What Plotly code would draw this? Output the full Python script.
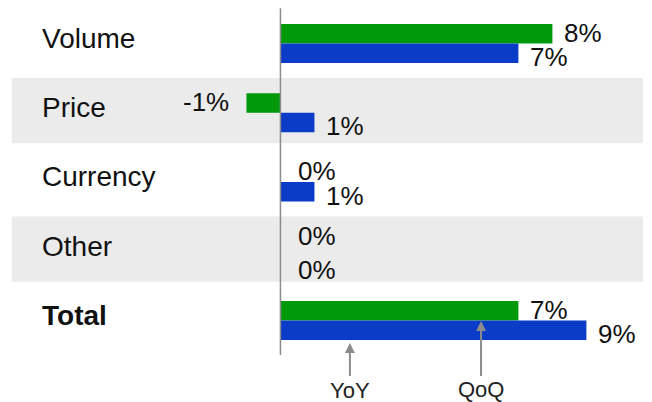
import plotly.graph_objects as go

# Growth drivers, percentage points
categories = ["Volume", "Price", "Currency", "Other", "Total"]
yoy = [8, -1, 0, 0, 7]
qoq = [7, 1, 1, 0, 9]
series_names = ["YoY", "QoQ"]

GREEN = "#00990A"
BLUE = "#0A3CC8"
BAND = "#EBEBEB"
GRID = "#8C8C8C"
FONT = "Liberation Sans, Arial, sans-serif"

rows = list(range(len(categories)))
bar_w = 0.28

fig = go.Figure()
fig.add_trace(go.Bar(
    x=yoy, y=rows, orientation="h", name=series_names[0],
    marker=dict(color=GREEN, line=dict(width=0)),
    width=bar_w, offset=-bar_w, base=0, hoverinfo="x+name",
))
fig.add_trace(go.Bar(
    x=qoq, y=rows, orientation="h", name=series_names[1],
    marker=dict(color=BLUE, line=dict(width=0)),
    width=bar_w, offset=0, base=0, hoverinfo="x+name",
))

shapes = []
# alternating shaded rows
for i in rows:
    if i % 2 == 1:
        shapes.append(dict(
            type="rect", xref="paper", yref="y",
            x0=0.018, x1=0.986, y0=i - 0.5, y1=i + 0.44,
            fillcolor=BAND, line=dict(width=0), layer="below",
        ))
# zero reference line
shapes.append(dict(
    type="line", xref="x", yref="y", x0=0, x1=0, y0=-0.51, y1=4.5,
    line=dict(color=GRID, width=1.5), layer="above",
))

annotations = []
# row labels
for i, name in enumerate(categories):
    annotations.append(dict(
        xref="paper", yref="y", x=40 / 652, y=i, xanchor="left", yanchor="middle",
        text=f"<b>{name}</b>" if name == "Total" else name,
        showarrow=False, yshift=5,
        font=dict(family=FONT, size=28, color="#111111"),
    ))


def value_label(v, yc, yshift):
    if v > 0:
        anchor, shift = "left", 10
    elif v < 0:
        anchor, shift = "right", -15
    else:
        anchor, shift = "left", 16
    return dict(
        xref="x", yref="y", x=v, y=yc, xanchor=anchor, yanchor="middle",
        text=f"{v}%", showarrow=False, xshift=shift, yshift=yshift,
        font=dict(family=FONT, size=26, color="#111111"),
    )


for i in rows:
    # spread the pair apart when both labels sit at the zero line
    spread = 5 if yoy[i] == 0 and qoq[i] == 0 else 0
    annotations.append(value_label(yoy[i], i - bar_w / 2, 1 + spread))
    annotations.append(value_label(qoq[i], i + bar_w / 2, -4 - spread))

# callouts pointing at the two series in the Total row
total = len(categories) - 1
callouts = [
    (series_names[0], qoq[total] * 0.227, total + 0.325, 47),
    (series_names[1], yoy[total] * 0.843, total + 0.007, 69),
]
for label, xt, yt, drop in callouts:
    annotations.append(dict(
        xref="x", yref="y", x=xt, y=yt, ax=0, ay=drop,
        text=label, showarrow=True, arrowhead=2, arrowsize=1,
        arrowwidth=2, arrowcolor=GRID,
        font=dict(family=FONT, size=22, color="#222222"),
    ))

fig.update_layout(
    width=652, height=402,
    margin=dict(l=0, r=0, t=0, b=0),
    paper_bgcolor="white", plot_bgcolor="white",
    barmode="overlay", showlegend=False,
    xaxis=dict(range=[-8.25, 10.93], visible=False, fixedrange=True),
    yaxis=dict(range=[5.177, -0.628], visible=False, fixedrange=True),
    shapes=shapes, annotations=annotations,
)

fig.write_html("out.html")
